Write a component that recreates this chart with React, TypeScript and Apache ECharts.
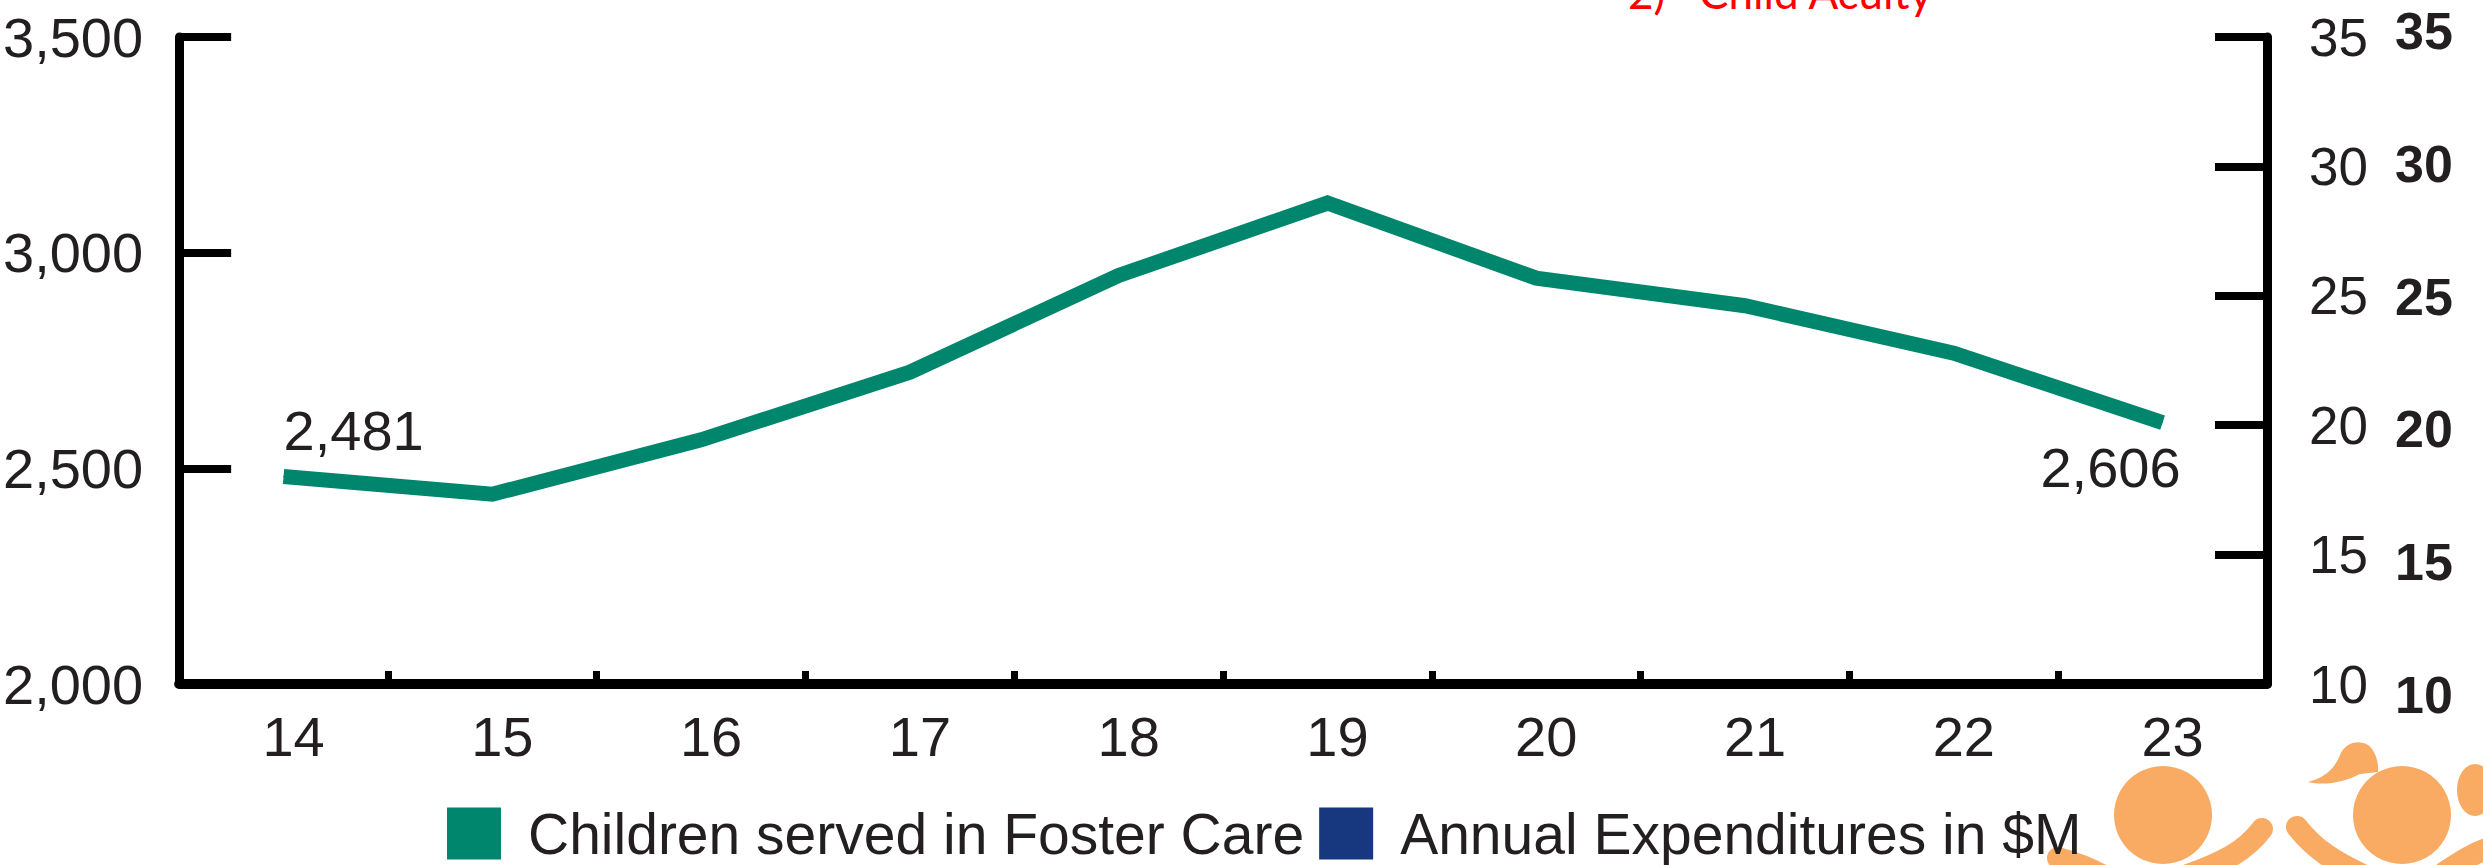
import React, { useEffect, useRef } from "react";
import * as echarts from "echarts";

const years = ["14", "15", "16", "17", "18", "19", "20", "21", "22", "23"];
const childrenServed = [2481, 2440, 2566, 2723, 2947, 3115, 2941, 2877, 2767, 2606];
const expenditures: number[] = [];
const leftMin = 2000;
const leftMax = 3500;
const leftStep = 500;
const rightMin = 10;
const rightMax = 35;
const rightStep = 5;
const seriesNames = ["Children served in Foster Care", "Annual Expenditures in $M"];
const noteText = "2)   Child Acuity";

const GREEN = "#00866C";
const BLUE = "#17377F";
const ORANGE = "#F9AA63";
const INK = "#231F20";
const NARROW = "'Liberation Sans Narrow', 'Arial Narrow', 'Liberation Sans', Arial, sans-serif";
const SANS = "'Liberation Sans', Arial, Helvetica, sans-serif";

let registered = false;
function registerShapes() {
  if (registered) return;
  registered = true;
  echarts.graphic.registerShape(
    "ponytail",
    echarts.graphic.extendPath(
      "M8,42 C25,38 35,28 40,15 C45,3 58,-1 68,5 C75,10 79,22 78,32 L60,34 C45,42 25,46 8,42 Z",
      {}
    )
  );
}

export default function App() {
  const ref = useRef<HTMLDivElement>(null);
  useEffect(() => {
    document.body.style.margin = "0";
    registerShapes();
    const chart = echarts.init(ref.current!, null, { renderer: "svg" });
    const lastIdx = childrenServed.length - 1;
    const lineData = childrenServed.map((v, i) => {
      if (i === 0) {
        return {
          value: v,
          label: { show: true, position: "top", align: "left", distance: 18 },
        };
      }
      if (i === lastIdx) {
        return {
          value: v,
          label: { show: true, position: "bottom", align: "right", distance: 16, offset: [18, 0] },
        };
      }
      return { value: v };
    });
    const option: any = {
      animation: false,
      backgroundColor: "#ffffff",
      grid: [
        { left: 177, right: 216, top: 37, bottom: 181, containLabel: false },
        { left: 177, right: 216, top: 31, bottom: 170, containLabel: false },
      ],
      legend: {
        left: 442,
        top: 800,
        itemWidth: 54,
        itemHeight: 52,
        itemGap: 15,
        icon: "rect",
        data: seriesNames,
        textStyle: {
          fontSize: 57,
          fontFamily: NARROW,
          color: INK,
          padding: [0, 0, 0, 22],
        },
      },
      xAxis: [
        {
          type: "category",
          data: years,
          gridIndex: 0,
          boundaryGap: true,
          axisLine: { lineStyle: { color: "#000", width: 10 } },
          axisTick: { show: true, inside: true, length: 13, lineStyle: { color: "#000", width: 7 } },
          axisLabel: { fontSize: 56, fontFamily: NARROW, color: INK, margin: 24, padding: [0, 0, 0, 20] },
          splitLine: { show: false },
        },
        { type: "category", data: years, gridIndex: 1, show: false },
      ],
      yAxis: [
        {
          type: "value",
          gridIndex: 0,
          position: "left",
          min: leftMin,
          max: leftMax,
          interval: leftStep,
          axisLine: { show: true, lineStyle: { color: "#000", width: 9 } },
          axisTick: { show: true, inside: true, length: 52, lineStyle: { color: "#000", width: 8 } },
          axisLabel: {
            fontSize: 56,
            fontFamily: SANS,
            color: INK,
            margin: 36,
            formatter: (v: number) => v.toLocaleString("en-US"),
          },
          splitLine: { show: false },
        },
        {
          type: "value",
          gridIndex: 0,
          position: "right",
          min: rightMin,
          max: rightMax,
          interval: rightStep,
          axisLine: { show: true, lineStyle: { color: "#000", width: 9 } },
          axisTick: { show: true, inside: true, length: 52, lineStyle: { color: "#000", width: 8 } },
          axisLabel: { fontSize: 53, fontFamily: NARROW, color: INK, margin: 42 },
          splitLine: { show: false },
        },
        {
          type: "value",
          gridIndex: 1,
          position: "right",
          min: rightMin,
          max: rightMax,
          interval: rightStep,
          axisLine: { show: false },
          axisTick: { show: false },
          axisLabel: { fontSize: 52, fontWeight: "bold", fontFamily: SANS, color: INK, margin: 128 },
          splitLine: { show: false },
        },
      ],
      series: [
        {
          name: seriesNames[0],
          type: "line",
          xAxisIndex: 0,
          yAxisIndex: 0,
          data: lineData,
          showSymbol: true,
          symbol: "circle",
          symbolSize: 1,
          itemStyle: { color: GREEN },
          color: GREEN,
          lineStyle: { color: GREEN, width: 15, join: "miter" },
          label: {
            fontSize: 56,
            fontFamily: SANS,
            color: INK,
            formatter: (p: any) => Number(p.value).toLocaleString("en-US"),
          },
          z: 3,
        },
        {
          name: seriesNames[1],
          type: "line",
          xAxisIndex: 0,
          yAxisIndex: 1,
          data: expenditures,
          color: BLUE,
          itemStyle: { color: BLUE },
          showSymbol: false,
          lineStyle: { color: BLUE, width: 15 },
        },
      ],
      graphic: [
        {
          type: "text",
          x: 1628,
          y: 14,
          style: {
            text: noteText,
            fill: "#FF0000",
            fontSize: 44,
            fontFamily: "Lato, 'Open Sans', sans-serif",
            verticalAlign: "bottom",
            align: "left",
          },
        },
        { type: "circle", shape: { cx: 2163, cy: 815, r: 49 }, style: { fill: ORANGE } },
        { type: "circle", shape: { cx: 2402, cy: 815, r: 49 }, style: { fill: ORANGE } },
        {
          type: "bezierCurve",
          shape: { x1: 2262, y1: 829, cpx1: 2245, cpy1: 852, cpx2: 2220, cpy2: 864, x2: 2185, y2: 876 },
          style: { stroke: ORANGE, lineWidth: 22, lineCap: "round", fill: null },
        },
        {
          type: "bezierCurve",
          shape: { x1: 2297, y1: 827, cpx1: 2315, cpy1: 850, cpx2: 2335, cpy2: 862, x2: 2365, y2: 876 },
          style: { stroke: ORANGE, lineWidth: 22, lineCap: "round", fill: null },
        },
        {
          type: "bezierCurve",
          shape: { x1: 2058, y1: 858, cpx1: 2080, cpy1: 864, cpx2: 2095, cpy2: 870, x2: 2110, y2: 880 },
          style: { stroke: ORANGE, lineWidth: 22, lineCap: "round", fill: null },
        },
        {
          type: "bezierCurve",
          shape: { x1: 2445, y1: 872, cpx1: 2460, cpy1: 862, cpx2: 2475, cpy2: 852, x2: 2495, y2: 846 },
          style: { stroke: ORANGE, lineWidth: 22, lineCap: "round", fill: null },
        },
        { type: "ponytail", x: 2300, y: 740, style: { fill: ORANGE } },
        { type: "ellipse", shape: { cx: 2475, cy: 790, rx: 18, ry: 26 }, style: { fill: ORANGE } },
      ],
    };
    chart.setOption(option);
    return () => chart.dispose();
  }, []);
  return <div ref={ref} style={{ width: 2483, height: 865 }} />;
}
